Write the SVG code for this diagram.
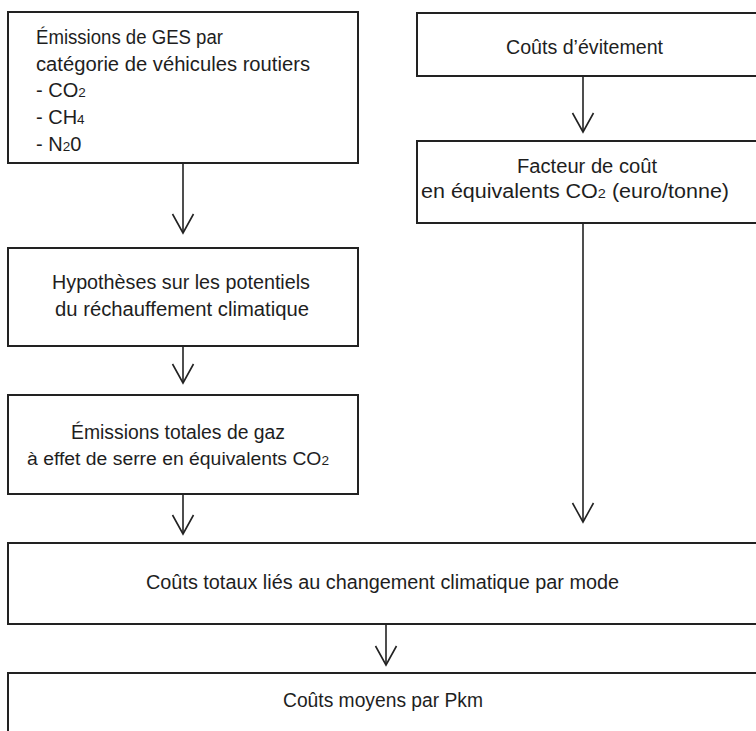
<svg xmlns="http://www.w3.org/2000/svg" width="756" height="731" viewBox="0 0 756 731">
<style>
.box{fill:#fff;stroke:#222;stroke-width:2}
.t{font-family:"Liberation Sans",Arial,sans-serif;font-size:20px;fill:#1e1e1e}
.c{text-anchor:middle}
.s{font-size:13.5px}
.conn line{stroke:#222;stroke-width:1.6;fill:none;marker-end:url(#chev)}
</style>
<defs>
<marker id="chev" markerUnits="userSpaceOnUse" markerWidth="30" markerHeight="30" refX="0" refY="0" orient="auto" overflow="visible">
<path d="M-19,-10.5 L0,0 L-19,10.5" fill="none" stroke="#222" stroke-width="1.6"/>
</marker>
</defs>
<rect width="756" height="731" fill="#fff"/>
<g id="n1">
<rect class="box" x="8" y="12" width="350" height="151"/>
<text class="t" x="36" y="44" textLength="187" lengthAdjust="spacingAndGlyphs">Émissions de GES par</text>
<text class="t" x="36" y="71" textLength="274" lengthAdjust="spacingAndGlyphs">catégorie de véhicules routiers</text>
<text class="t" x="36" y="97">- CO<tspan class="s">2</tspan></text>
<text class="t" x="36" y="124">- CH<tspan class="s">4</tspan></text>
<text class="t" x="36" y="151">- N<tspan class="s">2</tspan>0</text>
</g>
<g id="n2">
<rect class="box" x="417" y="13" width="345" height="63"/>
<text class="t c" x="584.5" y="54" textLength="157" lengthAdjust="spacingAndGlyphs">Coûts d’évitement</text>
</g>
<g id="n3">
<rect class="box" x="417" y="141" width="345" height="82"/>
<text class="t c" x="587" y="173" textLength="140" lengthAdjust="spacingAndGlyphs">Facteur de coût</text>
<text class="t c" x="575" y="198" textLength="308" lengthAdjust="spacingAndGlyphs">en équivalents CO<tspan class="s">2</tspan> (euro/tonne)</text>
</g>
<g id="n4">
<rect class="box" x="8" y="248" width="350" height="98"/>
<text class="t c" x="181" y="289" textLength="258" lengthAdjust="spacingAndGlyphs">Hypothèses sur les potentiels</text>
<text class="t c" x="182" y="316" textLength="254" lengthAdjust="spacingAndGlyphs">du réchauffement climatique</text>
</g>
<g id="n5">
<rect class="box" x="8" y="395" width="350" height="99"/>
<text class="t c" x="178" y="439" textLength="214" lengthAdjust="spacingAndGlyphs">Émissions totales de gaz</text>
<text class="t c" x="178" y="465" style="font-size:19.2px" textLength="302" lengthAdjust="spacingAndGlyphs">à effet de serre en équivalents CO<tspan class="s">2</tspan></text>
</g>
<g id="n6">
<rect class="box" x="8" y="543" width="756" height="81"/>
<text class="t c" x="382.5" y="589" textLength="473" lengthAdjust="spacingAndGlyphs">Coûts totaux liés au changement climatique par mode</text>
</g>
<g id="n7">
<rect class="box" x="8" y="673" width="756" height="70"/>
<text class="t c" x="383" y="707" textLength="200" lengthAdjust="spacingAndGlyphs">Coûts moyens par Pkm</text>
</g>
<g id="connectors" class="conn">
<line x1="183" y1="163" x2="183" y2="233"/>
<line x1="583" y1="76" x2="583" y2="132"/>
<line x1="183" y1="346" x2="183" y2="383"/>
<line x1="183" y1="494" x2="183" y2="534"/>
<line x1="583" y1="223" x2="583" y2="522"/>
<line x1="386" y1="624" x2="386" y2="665"/>
</g>
</svg>
